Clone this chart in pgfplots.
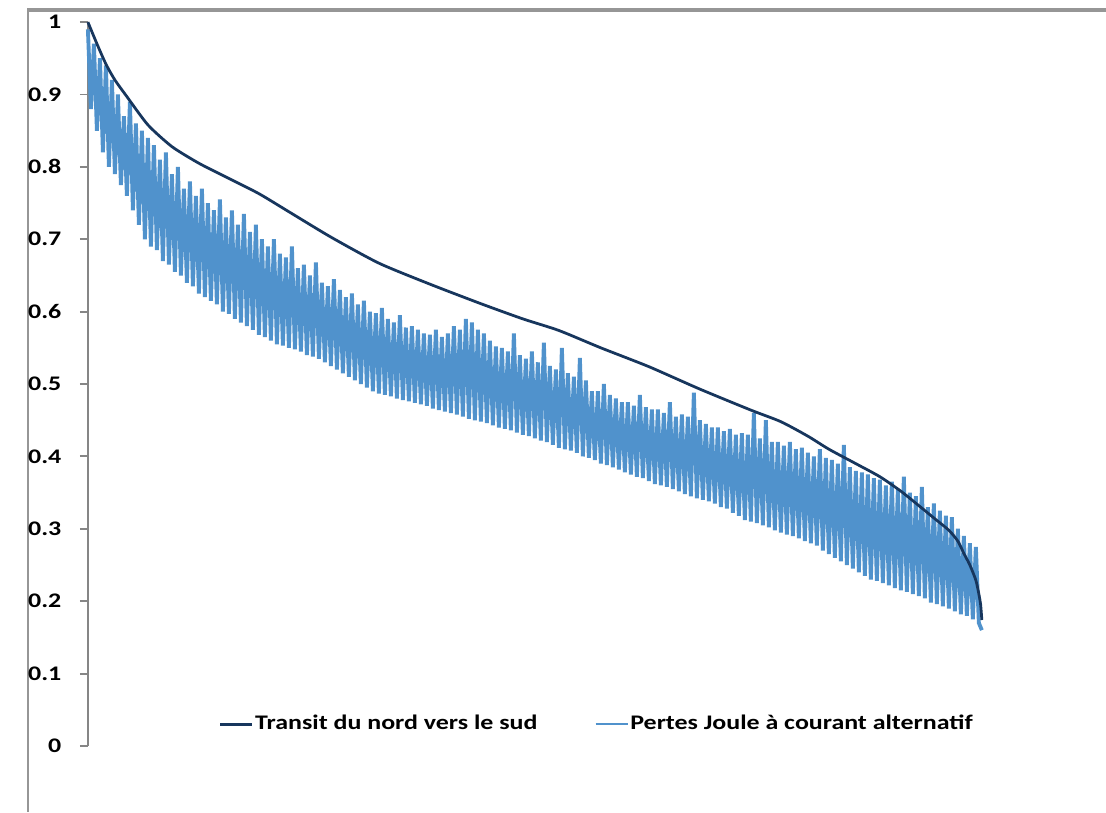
\documentclass[border=0pt]{standalone}
\usepackage{fontspec}
\usepackage{pgfplots}
\pgfplotsset{compat=1.18}
\usepackage{pgfplotstable}
\newfontfamily\chartfont[FakeStretch=1.25]{Carlito}
\definecolor{navy}{RGB}{23,54,93}
\definecolor{lblue}{RGB}{80,146,204}
\definecolor{framegray}{RGB}{150,150,150}
\definecolor{axgray}{RGB}{134,134,134}

\pgfplotstableread[row sep=\\]{
y\\
0.99\\0.88\\0.97\\0.85\\0.95\\0.82\\0.94\\0.80\\0.92\\0.79\\
0.90\\0.775\\0.87\\0.76\\0.89\\0.74\\0.86\\0.72\\0.85\\0.70\\
0.84\\0.69\\0.83\\0.685\\0.81\\0.67\\0.82\\0.665\\0.79\\0.655\\
0.80\\0.65\\0.77\\0.64\\0.78\\0.635\\0.76\\0.625\\0.77\\0.62\\
0.75\\0.615\\0.74\\0.61\\0.755\\0.60\\0.73\\0.597\\0.74\\0.59\\
0.72\\0.585\\0.735\\0.58\\0.71\\0.575\\0.72\\0.568\\0.70\\0.565\\
0.69\\0.56\\0.70\\0.555\\0.68\\0.553\\0.675\\0.55\\0.69\\0.548\\
0.66\\0.545\\0.665\\0.54\\0.65\\0.538\\0.668\\0.535\\0.64\\0.53\\
0.635\\0.525\\0.645\\0.52\\0.63\\0.515\\0.62\\0.51\\0.625\\0.505\\
0.61\\0.50\\0.615\\0.495\\0.60\\0.49\\0.598\\0.487\\0.605\\0.485\\
0.59\\0.483\\0.585\\0.48\\0.595\\0.478\\0.578\\0.476\\0.58\\0.474\\
0.575\\0.472\\0.57\\0.47\\0.568\\0.466\\0.575\\0.464\\0.565\\0.462\\
0.57\\0.46\\0.58\\0.458\\0.575\\0.455\\0.59\\0.452\\0.585\\0.45\\
0.575\\0.448\\0.57\\0.446\\0.56\\0.443\\0.552\\0.44\\0.55\\0.438\\
0.545\\0.436\\0.57\\0.433\\0.54\\0.43\\0.535\\0.428\\0.545\\0.425\\
0.53\\0.422\\0.557\\0.42\\0.525\\0.416\\0.52\\0.412\\0.55\\0.41\\
0.515\\0.408\\0.51\\0.405\\0.536\\0.40\\0.505\\0.398\\0.49\\0.395\\
0.49\\0.39\\0.50\\0.388\\0.485\\0.385\\0.48\\0.382\\0.475\\0.378\\
0.475\\0.375\\0.47\\0.372\\0.485\\0.37\\0.468\\0.366\\0.465\\0.362\\
0.465\\0.36\\0.46\\0.358\\0.475\\0.355\\0.455\\0.352\\0.458\\0.348\\
0.455\\0.345\\0.488\\0.342\\0.45\\0.34\\0.445\\0.338\\0.44\\0.335\\
0.44\\0.33\\0.435\\0.328\\0.438\\0.322\\0.43\\0.318\\0.432\\0.312\\
0.43\\0.31\\0.46\\0.308\\0.425\\0.305\\0.45\\0.302\\0.42\\0.298\\
0.42\\0.295\\0.415\\0.292\\0.42\\0.29\\0.41\\0.287\\0.412\\0.283\\
0.405\\0.28\\0.40\\0.277\\0.41\\0.27\\0.398\\0.265\\0.395\\0.26\\
0.39\\0.255\\0.416\\0.25\\0.385\\0.245\\0.38\\0.24\\0.378\\0.235\\
0.375\\0.23\\0.37\\0.228\\0.368\\0.225\\0.36\\0.222\\0.365\\0.218\\
0.355\\0.215\\0.372\\0.213\\0.35\\0.21\\0.345\\0.207\\0.358\\0.204\\
0.33\\0.198\\0.335\\0.196\\0.325\\0.193\\0.318\\0.19\\0.316\\0.186\\
0.30\\0.182\\0.29\\0.18\\0.28\\0.175\\0.275\\0.17\\0.16\\
}\pertes

\pgfplotstableread[row sep=\\]{
x y\\
0 1.0\\ 3 0.97\\ 6 0.942\\ 9 0.92\\ 13 0.897\\ 20 0.858\\ 28 0.828\\
37 0.805\\ 47 0.784\\ 57 0.763\\ 67 0.738\\ 81 0.703\\ 97 0.667\\
114 0.638\\ 131 0.611\\ 145 0.59\\ 157 0.574\\ 171 0.55\\ 187 0.524\\
204 0.493\\ 221 0.464\\ 231 0.448\\ 240 0.428\\ 247 0.41\\ 256 0.39\\
264 0.372\\ 271 0.352\\ 277 0.332\\ 282 0.315\\ 287 0.298\\ 290 0.283\\
292 0.266\\ 294 0.25\\ 296 0.229\\ 297 0.21\\ 297.6 0.195\\ 298 0.174\\
}\transit

\begin{document}
\begin{tikzpicture}
\fill[white] (-31.8pt,-23.9pt) rectangle (368.2pt,269.8pt);
\fill[framegray] (-22.2pt,-23.9pt) rectangle (-21.2pt,266.8pt);
\fill[framegray] (-22.2pt,265.6pt) rectangle (368.2pt,266.8pt);
\begin{axis}[
  scale only axis,
  width=323.3pt, height=261.8pt,
  xmin=0, xmax=298, ymin=0, ymax=1,
  axis x line=none,
  axis y line=left,
  axis line style={-, draw=axgray, line width=0.7pt},
  ytick={0,0.1,0.2,0.3,0.4,0.5,0.6,0.7,0.8,0.9,1},
  yticklabels={0,0.1,0.2,0.3,0.4,0.5,0.6,0.7,0.8,0.9,1},
  tick align=outside,
  major tick length=2.9pt,
  tick style={draw=axgray, line width=0.7pt},
  yticklabel style={font=\chartfont\bfseries\fontsize{7.5}{9}\selectfont, anchor=east, inner sep=0pt, xshift=-6.5pt, text=black},
  clip=false,
  legend columns=2,
  legend style={at={(0.569,0.03)}, anchor=center, draw=none, fill=none,
    font=\chartfont\bfseries\fontsize{7.5}{9}\selectfont,
    nodes={inner sep=0.6pt},
    /tikz/every even column/.append style={column sep=20pt}},
  legend image code/.code={\draw[#1] (0pt,0pt) -- (11.6pt,0pt);},
]
\addplot[lblue, line width=1.4pt, forget plot] table[x expr=\coordindex, y=y] {\pertes};
\addplot[navy, line width=1pt, smooth, tension=0.4] table[x=x, y=y] {\transit};
\addlegendentry{Transit du nord vers le sud}
\addlegendimage{draw=lblue, line width=0.8pt}
\addlegendentry{Pertes Joule à courant alternatif}
\end{axis}
\end{tikzpicture}
\end{document}
